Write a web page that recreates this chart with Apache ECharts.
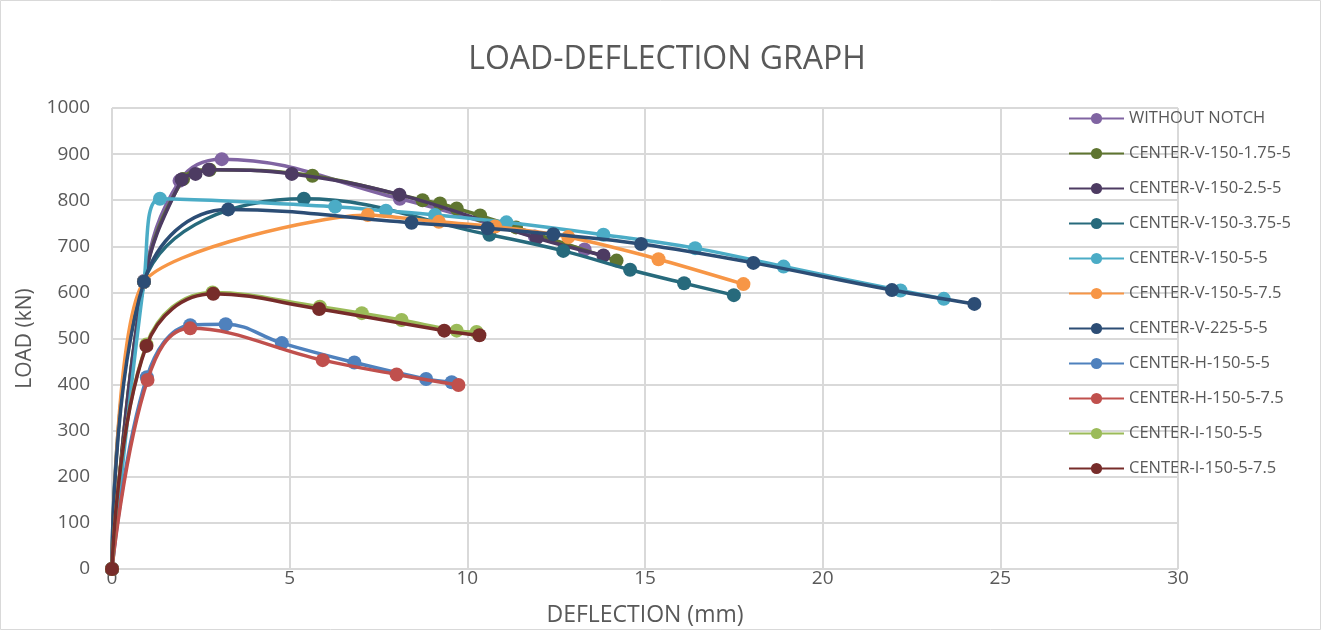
<!DOCTYPE html>
<html>
<head>
<meta charset="utf-8">
<script src="https://cdn.jsdelivr.net/npm/echarts@6/dist/echarts.min.js"></script>
<style>
html,body{margin:0;padding:0;background:#fff;}
#c{width:1322px;height:631px;}
</style>
</head>
<body>
<div id="c"></div>
<script>
const seriesNames = ["WITHOUT NOTCH","CENTER-V-150-1.75-5","CENTER-V-150-2.5-5","CENTER-V-150-3.75-5","CENTER-V-150-5-5","CENTER-V-150-5-7.5","CENTER-V-225-5-5","CENTER-H-150-5-5","CENTER-H-150-5-7.5","CENTER-I-150-5-5","CENTER-I-150-5-7.5"];
const seriesColors = ["#8064A2","#5F7530","#4D3B62","#276A7C","#4BACC6","#F79646","#2C4D75","#4F81BD","#C0504D","#9BBB59","#772C2A"];

const withoutNotch = [[0,0],[0.9,625],[1.9,842],[3.09,889],[8.1,803],[11.9,721],[13.3,693]];
const v150_175 = [[0,0],[0.9,623],[2.0,846],[2.75,866],[5.64,853],[8.74,800],[9.23,793],[9.70,782],[10.36,767],[11.37,741],[14.2,669]];
const v150_25 = [[0,0],[0.9,623],[1.96,845],[2.35,857],[2.72,866],[5.06,857],[8.09,812],[11.95,718],[13.83,680]];
const v150_375 = [[0,0],[0.9,623],[5.4,803],[10.62,725],[12.7,690],[14.58,649],[16.1,620],[17.5,594]];
const v150_5_5 = [[0,0],[0.9,623],[1.35,803],[6.28,786],[7.71,777],[9.09,768],[11.1,752],[13.83,725],[16.41,696],[18.9,656],[22.19,604],[23.41,586]];
const v150_5_75 = [[0,0],[0.9,623],[7.2,768],[9.2,753],[10.78,743],[12.84,720],[15.38,672],[17.77,618]];
const v225_5_5 = [[0,0],[0.9,623],[3.27,780],[8.43,751],[10.57,739],[12.42,726],[14.89,705],[18.05,664],[21.95,605],[24.27,575]];
const h150_5_5 = [[0,0],[0.98,416],[2.2,529],[3.2,531],[4.78,490],[6.82,448],[8.84,412],[9.56,405]];
const h150_5_75 = [[0,0],[1.0,410],[2.2,522],[5.93,453],[8.01,422],[9.75,399]];
const i150_5_5 = [[0,0],[0.97,487],[2.83,600],[5.85,569],[7.03,555],[8.15,540],[9.70,517],[10.26,514]];
const i150_5_75 = [[0,0],[0.97,484],[2.85,597],[5.83,564],[9.35,517],[10.34,507]];
const allData = [withoutNotch,v150_175,v150_25,v150_375,v150_5_5,v150_5_75,v225_5_5,h150_5_5,h150_5_75,i150_5_5,i150_5_75];

const xTicks = {min:0,max:30,interval:5};
const yTicks = {min:0,max:1000,interval:100};

const font = "'Open Sans', 'Liberation Sans', sans-serif";
const chart = echarts.init(document.getElementById('c'));
chart.setOption({
  animation:false,
  backgroundColor:'#fff',
  title:{text:'LOAD-DEFLECTION GRAPH',left:662,top:39,textAlign:'center',
    textStyle:{fontFamily:font,fontSize:32,fontWeight:'normal',color:'#595959'}},
  graphic:[{type:'rect',shape:{x:0.5,y:0.5,width:1320,height:629},style:{fill:'none',stroke:'#D9D9D9',lineWidth:1},silent:true,z:-1}],
  grid:{left:112,right:144,top:108,bottom:62,containLabel:false,outerBoundsMode:'none'},
  legend:{orient:'vertical',left:1063,top:105,itemWidth:55,itemHeight:14,itemGap:18,
    data:seriesNames,
    textStyle:{fontFamily:font,fontSize:16.5,color:'#595959',lineHeight:14}},
  xAxis:{type:'value',min:xTicks.min,max:xTicks.max,interval:xTicks.interval,
    name:'DEFLECTION (mm)',nameLocation:'middle',nameGap:35,
    nameTextStyle:{fontFamily:font,fontSize:23,color:'#595959'},
    axisLine:{show:false},axisTick:{show:false},
    axisLabel:{fontFamily:font,fontSize:19,color:'#595959',margin:0},
    splitLine:{show:true,showMinLine:true,showMaxLine:true,lineStyle:{color:'#D9D9D9',width:2}}},
  yAxis:{type:'value',min:yTicks.min,max:yTicks.max,interval:yTicks.interval,
    name:'LOAD (kN)',nameLocation:'middle',nameGap:70,nameRotate:90,
    nameTextStyle:{fontFamily:font,fontSize:21,color:'#595959'},
    axisLine:{show:false},axisTick:{show:false},
    axisLabel:{fontFamily:font,fontSize:19,color:'#595959',margin:22,formatter:v=>String(v)},
    splitLine:{show:true,showMinLine:true,showMaxLine:true,lineStyle:{color:'#D9D9D9',width:2}}},
  series: seriesNames.map((n,i)=>({
    name:n,type:'line',data:allData[i],smooth:(i===5?0.2:0.4),
    symbol:'circle',symbolSize:14,
    lineStyle:{width:3.5,color:seriesColors[i]},
    itemStyle:{color:seriesColors[i]},
    z:2+i
  }))
});
</script>
</body>
</html>
